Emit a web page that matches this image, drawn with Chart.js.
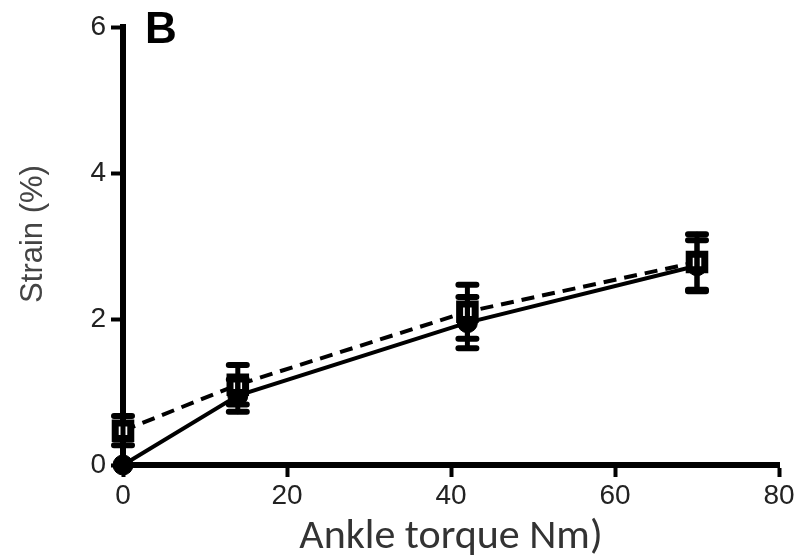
<!DOCTYPE html>
<html>
<head>
<meta charset="utf-8">
<script src="https://cdn.jsdelivr.net/npm/chart.js@4.4.1/dist/chart.umd.min.js"></script>
<style>
  html, body { margin: 0; padding: 0; background: #fff; }
  #wrap { width: 797px; height: 559px; position: relative; }
</style>
</head>
<body>
<div id="wrap"><canvas id="c" width="797" height="559"></canvas></div>
<script>
// Ankle torque (Nm) at which strain was measured
const torque = [0, 14, 42, 70];
// Strain (%) — solid line, filled circles
const strainSolid = [0, 0.95, 1.95, 2.73];
const errSolid = [0, 0.22, 0.35, 0.35];
// Strain (%) — dashed line, open squares
const strainDashed = [0.47, 1.1, 2.1, 2.78];
const errDashed = [0.2, 0.27, 0.37, 0.38];
// Axis ticks
const xTicks = [0, 20, 40, 60, 80];
const yTicks = [0, 2, 4, 6];

const toPoints = (ys) => torque.map((x, i) => ({ x: x, y: ys[i] }));

// Vertical error bars with flat caps, drawn on top of the lines
const errorBars = {
  id: 'errorBars',
  afterDatasetsDraw(chart) {
    const ctx = chart.ctx;
    const xs = chart.scales.x, ys = chart.scales.y;
    const sets = [[strainDashed, errDashed], [strainSolid, errSolid]];
    ctx.save();
    ctx.strokeStyle = '#000';
    ctx.lineCap = 'round';
    sets.forEach(([vals, errs]) => {
      vals.forEach((v, i) => {
        if (!errs[i]) return;
        const px = xs.getPixelForValue(torque[i]);
        const top = ys.getPixelForValue(v + errs[i]);
        const bot = ys.getPixelForValue(v - errs[i]);
        ctx.lineWidth = 5;
        ctx.beginPath();
        ctx.moveTo(px, top); ctx.lineTo(px, bot);
        ctx.stroke();
        ctx.lineWidth = 6;
        ctx.beginPath();
        ctx.moveTo(px - 9, top); ctx.lineTo(px + 9, top);
        ctx.moveTo(px - 9, bot); ctx.lineTo(px + 9, bot);
        ctx.stroke();
      });
    });
    ctx.restore();
  }
};

// Panel letter and rotated y-axis title
const labels = {
  id: 'labels',
  afterDraw(chart) {
    const ctx = chart.ctx;
    ctx.save();
    ctx.fillStyle = '#000';
    ctx.font = 'bold 44px "Liberation Sans", Arial, sans-serif';
    ctx.textBaseline = 'alphabetic';
    ctx.textAlign = 'left';
    ctx.fillText('B', 145, 43);

    ctx.translate(33, 234);
    ctx.rotate(-Math.PI / 2);
    ctx.fillStyle = '#444';
    ctx.font = '31px "Liberation Sans", Arial, sans-serif';
    ctx.textAlign = 'center';
    ctx.textBaseline = 'middle';
    ctx.fillText('Strain (%)', 0, 0);
    ctx.restore();
  }
};

const tickFont = { family: '"Liberation Sans", Arial, sans-serif', size: 28 };

new Chart(document.getElementById('c'), {
  type: 'line',
  data: {
    datasets: [
      {
        label: 'dashed',
        data: toPoints(strainDashed),
        borderColor: '#000',
        borderWidth: 4,
        borderDash: [13, 8],
        pointStyle: 'rect',
        pointRadius: 11,
        pointBackgroundColor: '#fff',
        pointBorderColor: '#000',
        pointBorderWidth: 7,
        tension: 0,
        clip: false
      },
      {
        label: 'solid',
        data: toPoints(strainSolid),
        borderColor: '#000',
        borderWidth: 4,
        pointStyle: 'circle',
        pointRadius: 10,
        pointBackgroundColor: '#000',
        pointBorderColor: '#000',
        pointBorderWidth: 1,
        tension: 0,
        clip: false
      }
    ]
  },
  options: {
    responsive: false,
    animation: false,
    events: [],
    layout: { padding: { top: 27, right: 17, left: 0, bottom: 0 } },
    plugins: { legend: { display: false }, tooltip: { enabled: false } },
    scales: {
      x: {
        type: 'linear',
        min: 0, max: 80,
        afterBuildTicks(s) { s.ticks = xTicks.map(v => ({ value: v })); },
        afterFit(s) { s.height = 94; },
        border: { display: true, color: '#000', width: 6 },
        grid: { display: true, drawOnChartArea: false, drawTicks: true, tickLength: 12, tickWidth: 4, tickColor: '#000', color: '#000' },
        ticks: { font: tickFont, color: '#222', padding: 2, maxRotation: 0 },
        title: {
          display: true,
          text: 'Ankle torque Nm)',
          color: '#333',
          font: { family: 'Carlito, "Open Sans", sans-serif', size: 42 },
          padding: { top: 0, bottom: -4 }
        }
      },
      y: {
        type: 'linear',
        min: 0, max: 6,
        afterBuildTicks(s) { s.ticks = yTicks.map(v => ({ value: v })); },
        afterFit(s) { s.width = 123; },
        border: { display: true, color: '#000', width: 6 },
        grid: { display: true, drawOnChartArea: false, drawTicks: true, tickLength: 12, tickWidth: 4, tickColor: '#000', color: '#000' },
        ticks: { font: tickFont, color: '#222', padding: 5 },
        title: { display: false }
      }
    }
  },
  plugins: [errorBars, labels]
});
</script>
</body>
</html>
